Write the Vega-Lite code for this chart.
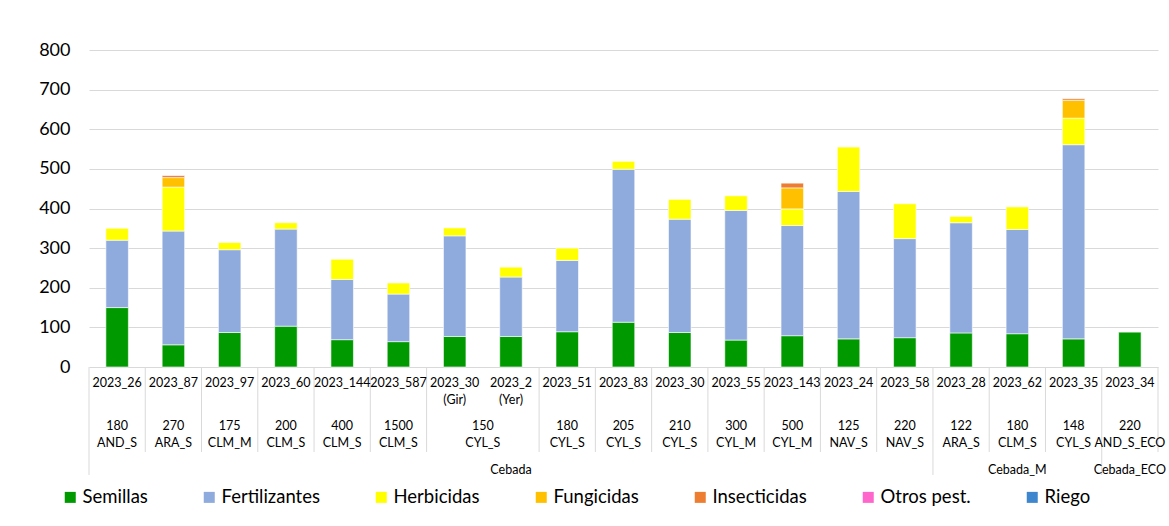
{
  "$schema": "https://vega.github.io/schema/vega-lite/v6.json",
  "background": "white",
  "padding": {"left": 38, "top": 41, "right": 12, "bottom": 5},
  "spacing": 0,
  "bounds": "flush",
  "config": {"view": {"stroke": null}, "font": "Lato", "text": {"font": "Lato"}},
  "datasets": {
    "inputs": [
      {"input": "Semillas", "rank": 1},
      {"input": "Fertilizantes", "rank": 2},
      {"input": "Herbicidas", "rank": 3},
      {"input": "Fungicidas", "rank": 4},
      {"input": "Insecticidas", "rank": 5},
      {"input": "Otros pest.", "rank": 6},
      {"input": "Riego", "rank": 7}
    ],
    "costs": [
      {"bar": "2023_26", "input": "Semillas", "value": 150},
      {"bar": "2023_26", "input": "Fertilizantes", "value": 170},
      {"bar": "2023_26", "input": "Herbicidas", "value": 30},
      {"bar": "2023_87", "input": "Semillas", "value": 56},
      {"bar": "2023_87", "input": "Fertilizantes", "value": 287},
      {"bar": "2023_87", "input": "Herbicidas", "value": 111},
      {"bar": "2023_87", "input": "Fungicidas", "value": 24},
      {"bar": "2023_87", "input": "Insecticidas", "value": 5},
      {"bar": "2023_97", "input": "Semillas", "value": 87},
      {"bar": "2023_97", "input": "Fertilizantes", "value": 209},
      {"bar": "2023_97", "input": "Herbicidas", "value": 18},
      {"bar": "2023_60", "input": "Semillas", "value": 103},
      {"bar": "2023_60", "input": "Fertilizantes", "value": 245},
      {"bar": "2023_60", "input": "Herbicidas", "value": 16},
      {"bar": "2023_144", "input": "Semillas", "value": 69},
      {"bar": "2023_144", "input": "Fertilizantes", "value": 152},
      {"bar": "2023_144", "input": "Herbicidas", "value": 51},
      {"bar": "2023_587", "input": "Semillas", "value": 64},
      {"bar": "2023_587", "input": "Fertilizantes", "value": 120},
      {"bar": "2023_587", "input": "Herbicidas", "value": 28},
      {"bar": "2023_30\n(Gir)", "input": "Semillas", "value": 77},
      {"bar": "2023_30\n(Gir)", "input": "Fertilizantes", "value": 254},
      {"bar": "2023_30\n(Gir)", "input": "Herbicidas", "value": 20},
      {"bar": "2023_2\n(Yer)", "input": "Semillas", "value": 77},
      {"bar": "2023_2\n(Yer)", "input": "Fertilizantes", "value": 150},
      {"bar": "2023_2\n(Yer)", "input": "Herbicidas", "value": 25},
      {"bar": "2023_51", "input": "Semillas", "value": 89},
      {"bar": "2023_51", "input": "Fertilizantes", "value": 180},
      {"bar": "2023_51", "input": "Herbicidas", "value": 31},
      {"bar": "2023_83", "input": "Semillas", "value": 113},
      {"bar": "2023_83", "input": "Fertilizantes", "value": 386},
      {"bar": "2023_83", "input": "Herbicidas", "value": 20},
      {"bar": "2023_30", "input": "Semillas", "value": 87},
      {"bar": "2023_30", "input": "Fertilizantes", "value": 286},
      {"bar": "2023_30", "input": "Herbicidas", "value": 50},
      {"bar": "2023_55", "input": "Semillas", "value": 68},
      {"bar": "2023_55", "input": "Fertilizantes", "value": 327},
      {"bar": "2023_55", "input": "Herbicidas", "value": 37},
      {"bar": "2023_143", "input": "Semillas", "value": 79},
      {"bar": "2023_143", "input": "Fertilizantes", "value": 278},
      {"bar": "2023_143", "input": "Herbicidas", "value": 42},
      {"bar": "2023_143", "input": "Fungicidas", "value": 53},
      {"bar": "2023_143", "input": "Insecticidas", "value": 12},
      {"bar": "2023_24", "input": "Semillas", "value": 71},
      {"bar": "2023_24", "input": "Fertilizantes", "value": 372},
      {"bar": "2023_24", "input": "Herbicidas", "value": 112},
      {"bar": "2023_58", "input": "Semillas", "value": 74},
      {"bar": "2023_58", "input": "Fertilizantes", "value": 250},
      {"bar": "2023_58", "input": "Herbicidas", "value": 88},
      {"bar": "2023_28", "input": "Semillas", "value": 86},
      {"bar": "2023_28", "input": "Fertilizantes", "value": 278},
      {"bar": "2023_28", "input": "Herbicidas", "value": 16},
      {"bar": "2023_62", "input": "Semillas", "value": 84},
      {"bar": "2023_62", "input": "Fertilizantes", "value": 263},
      {"bar": "2023_62", "input": "Herbicidas", "value": 57},
      {"bar": "2023_35", "input": "Semillas", "value": 71},
      {"bar": "2023_35", "input": "Fertilizantes", "value": 490},
      {"bar": "2023_35", "input": "Herbicidas", "value": 67},
      {"bar": "2023_35", "input": "Fungicidas", "value": 45},
      {"bar": "2023_35", "input": "Insecticidas", "value": 4},
      {"bar": "2023_34", "input": "Semillas", "value": 88}
    ],
    "lvl2": [
      {"bar": "2023_26", "label": "180\nAND_S", "merged": false},
      {"bar": "2023_87", "label": "270\nARA_S", "merged": false},
      {"bar": "2023_97", "label": "175\nCLM_M", "merged": false},
      {"bar": "2023_60", "label": "200\nCLM_S", "merged": false},
      {"bar": "2023_144", "label": "400\nCLM_S", "merged": false},
      {"bar": "2023_587", "label": "1500\nCLM_S", "merged": false},
      {"bar": "2023_30\n(Gir)", "label": "150\nCYL_S", "merged": true},
      {"bar": "2023_51", "label": "180\nCYL_S", "merged": false},
      {"bar": "2023_83", "label": "205\nCYL_S", "merged": false},
      {"bar": "2023_30", "label": "210\nCYL_S", "merged": false},
      {"bar": "2023_55", "label": "300\nCYL_M", "merged": false},
      {"bar": "2023_143", "label": "500\nCYL_M", "merged": false},
      {"bar": "2023_24", "label": "125\nNAV_S", "merged": false},
      {"bar": "2023_58", "label": "220\nNAV_S", "merged": false},
      {"bar": "2023_28", "label": "122\nARA_S", "merged": false},
      {"bar": "2023_62", "label": "180\nCLM_S", "merged": false},
      {"bar": "2023_35", "label": "148\nCYL_S", "merged": false},
      {"bar": "2023_34", "label": "220\nAND_S_ECO", "merged": false}
    ],
    "lvl3": [
      {"bar": "2023_2\n(Yer)", "label": "Cebada"},
      {"bar": "2023_62", "label": "Cebada_M"},
      {"bar": "2023_34", "label": "Cebada_ECO"}
    ],
    "seps": [
      {"bar": "2023_26", "side": "left", "depth": 3},
      {"bar": "2023_87", "side": "left", "depth": 2},
      {"bar": "2023_97", "side": "left", "depth": 2},
      {"bar": "2023_60", "side": "left", "depth": 2},
      {"bar": "2023_144", "side": "left", "depth": 2},
      {"bar": "2023_587", "side": "left", "depth": 2},
      {"bar": "2023_30\n(Gir)", "side": "left", "depth": 2},
      {"bar": "2023_51", "side": "left", "depth": 2},
      {"bar": "2023_83", "side": "left", "depth": 2},
      {"bar": "2023_30", "side": "left", "depth": 2},
      {"bar": "2023_55", "side": "left", "depth": 2},
      {"bar": "2023_143", "side": "left", "depth": 2},
      {"bar": "2023_24", "side": "left", "depth": 2},
      {"bar": "2023_58", "side": "left", "depth": 2},
      {"bar": "2023_28", "side": "left", "depth": 3},
      {"bar": "2023_62", "side": "left", "depth": 2},
      {"bar": "2023_35", "side": "left", "depth": 2},
      {"bar": "2023_34", "side": "left", "depth": 3},
      {"bar": "2023_34", "side": "right", "depth": 2}
    ]
  },
  "vconcat": [
    {
      "width": 1069,
      "height": 317,
      "data": {"name": "costs"},
      "transform": [
        {"lookup": "input", "from": {"data": {"name": "inputs"}, "key": "input", "fields": ["rank"]}}
      ],
      "mark": {"type": "bar", "width": {"band": 0.4}, "stroke": "#ffffff", "strokeWidth": 0.6},
      "encoding": {
        "x": {
          "field": "bar", "type": "nominal",
          "scale": {"type": "band", "domain": ["2023_26","2023_87","2023_97","2023_60","2023_144","2023_587","2023_30\n(Gir)","2023_2\n(Yer)","2023_51","2023_83","2023_30","2023_55","2023_143","2023_24","2023_58","2023_28","2023_62","2023_35","2023_34"], "paddingInner": 0, "paddingOuter": 0},
          "axis": null
        },
        "y": {
          "field": "value", "type": "quantitative", "stack": "zero",
          "scale": {"domain": [0, 800], "nice": false},
          "axis": {"values": [0,100,200,300,400,500,600,700,800], "title": null, "domain": false, "ticks": false, "labelFontSize": 18, "labelFont": "Lato", "labelPadding": 19, "labelColor": "#000000", "gridColor": "#d9d9d9", "gridWidth": 1}
        },
        "order": {"field": "rank", "type": "quantitative", "sort": "ascending"},
        "color": {
          "field": "input", "type": "nominal",
          "sort": ["Semillas","Fertilizantes","Herbicidas","Fungicidas","Insecticidas","Otros pest.","Riego"],
          "scale": {"domain": ["Semillas","Fertilizantes","Herbicidas","Fungicidas","Insecticidas","Otros pest.","Riego"], "range": ["#009900","#8faadc","#ffff00","#ffc000","#ed7d31","#ff66cc","#3e86cd"]},
          "legend": {"orient": "none", "legendX": -28, "legendY": 438, "direction": "horizontal", "title": null, "symbolType": "square", "symbolSize": 121, "symbolStrokeWidth": 0, "labelFontSize": 18.5, "labelFont": "Lato", "labelColor": "#000000", "labelOffset": 3, "columnPadding": 52, "labelLimit": 300}
        }
      }
    },
    {
      "width": 1069,
      "height": 108,
      "layer": [
        {
          "data": {"name": "seps"},
          "transform": [{"filter": "datum.side === 'left'"}],
          "mark": {"type": "rule", "color": "#d9d9d9", "strokeWidth": 1},
          "encoding": {
            "x": {"field": "bar", "type": "nominal", "bandPosition": 0, "axis": null,
              "scale": {"type": "band", "domain": ["2023_26","2023_87","2023_97","2023_60","2023_144","2023_587","2023_30\n(Gir)","2023_2\n(Yer)","2023_51","2023_83","2023_30","2023_55","2023_143","2023_24","2023_58","2023_28","2023_62","2023_35","2023_34"], "paddingInner": 0, "paddingOuter": 0}},
            "y": {"field": "depth", "type": "quantitative", "axis": null, "scale": {"domain": [0, 1, 2, 3], "range": [0, 43, 85, 108], "nice": false, "zero": false}},
            "y2": {"datum": 0}
          }
        },
        {
          "data": {"name": "seps"},
          "transform": [{"filter": "datum.side === 'right'"}],
          "mark": {"type": "rule", "color": "#d9d9d9", "strokeWidth": 1},
          "encoding": {
            "x": {"field": "bar", "type": "nominal", "bandPosition": 1},
            "y": {"field": "depth", "type": "quantitative"},
            "y2": {"datum": 0}
          }
        },
        {
          "data": {"name": "costs"},
          "transform": [{"filter": "datum.input === 'Semillas'"}],
          "mark": {"type": "text", "baseline": "top", "align": "center", "dy": 10, "fontSize": 12.5, "lineBreak": "\n", "lineHeight": 17, "color": "#000000"},
          "encoding": {
            "x": {"field": "bar", "type": "nominal", "bandPosition": 0.5},
            "y": {"datum": 0, "type": "quantitative"},
            "text": {"field": "bar"}
          }
        },
        {
          "data": {"name": "lvl2"},
          "transform": [{"filter": "!datum.merged"}],
          "mark": {"type": "text", "baseline": "top", "align": "center", "dy": 10, "fontSize": 12.5, "lineBreak": "\n", "lineHeight": 16.5, "color": "#000000"},
          "encoding": {
            "x": {"field": "bar", "type": "nominal", "bandPosition": 0.5},
            "y": {"datum": 1, "type": "quantitative"},
            "text": {"field": "label"}
          }
        },
        {
          "data": {"name": "lvl2"},
          "transform": [{"filter": "datum.merged"}],
          "mark": {"type": "text", "baseline": "top", "align": "center", "dy": 10, "fontSize": 12.5, "lineBreak": "\n", "lineHeight": 16.5, "color": "#000000"},
          "encoding": {
            "x": {"field": "bar", "type": "nominal", "bandPosition": 1},
            "y": {"datum": 1, "type": "quantitative"},
            "text": {"field": "label"}
          }
        },
        {
          "data": {"name": "lvl3"},
          "mark": {"type": "text", "baseline": "top", "align": "center", "dy": 12, "fontSize": 12.5, "color": "#000000"},
          "encoding": {
            "x": {"field": "bar", "type": "nominal", "bandPosition": 0.5},
            "y": {"datum": 2, "type": "quantitative"},
            "text": {"field": "label"}
          }
        }
      ]
    }
  ]
}
